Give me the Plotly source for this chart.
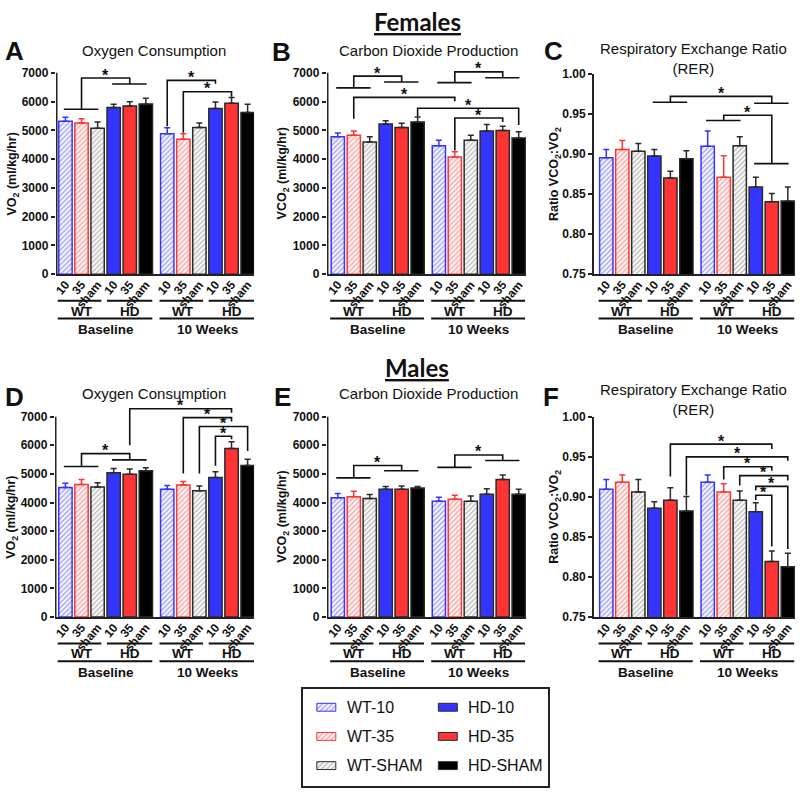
import plotly.graph_objects as go

W, H = 800, 795
FONT = "Liberation Sans, Arial, sans-serif"

# ---------------- data ----------------
SERIES = ["WT-10", "WT-35", "WT-SHAM", "HD-10", "HD-35", "HD-SHAM"]
DOSE_LABELS = ["10", "35", "sham"]
GENOTYPES = ["WT", "HD"]
TIMEPOINTS = ["Baseline", "10 Weeks"]

# [Baseline, 10 Weeks] per series (order = SERIES)
F_VO2_MEAN = [[5315, 4883], [5258, 4689], [5076, 5099], [5793, 5759], [5850, 5941], [5918, 5623]]
F_VO2_SEM = [[137, 205], [148, 194], [216, 159], [114, 228], [148, 205], [194, 284]]

F_VCO2_MEAN = [[4780, 4462], [4826, 4075], [4598, 4655], [5224, 4974], [5099, 4997], [5293, 4735]]
F_VCO2_SEM = [[125, 193], [148, 182], [182, 171], [114, 227], [148, 148], [170, 216]]

F_RER_MEAN = [[0.8954, 0.9096], [0.9055, 0.8709], [0.9035, 0.9104], [0.8974, 0.8587], [0.8701, 0.8404], [0.8941, 0.8412]]
F_RER_SEM = [[0.0101, 0.0191], [0.0114, 0.0269], [0.0094, 0.0110], [0.0081, 0.0122], [0.0082, 0.0102], [0.0098, 0.0175]]

M_VO2_MEAN = [[4529, 4461], [4632, 4609], [4541, 4415], [5044, 4872], [4987, 5890], [5113, 5296]]
M_VO2_SEM = [[149, 137], [172, 126], [149, 160], [149, 206], [183, 229], [103, 217]]

M_VCO2_MEAN = [[4163, 4049], [4198, 4118], [4140, 4049], [4461, 4289], [4461, 4804], [4507, 4289]]
M_VCO2_SEM = [[149, 137], [194, 137], [138, 183], [103, 195], [114, 160], [57, 172]]

M_RER_MEAN = [[0.9093, 0.9183], [0.9183, 0.9060], [0.9060, 0.8958], [0.8856, 0.8815], [0.8958, 0.8194], [0.8824, 0.8129]]
M_RER_SEM = [[0.0123, 0.0090], [0.0090, 0.0103], [0.0156, 0.0115], [0.0082, 0.0111], [0.0156, 0.0131], [0.0179, 0.0168]]

VO2_TICKS = [0, 1000, 2000, 3000, 4000, 5000, 6000, 7000]
RER_TICKS = [0.75, 0.80, 0.85, 0.90, 0.95, 1.00]

# significance brackets; slot = bar index 0..11 (0-5 Baseline, 6-11 10 Weeks)
# group lines: (first slot, last slot, y); links: (slot1, y1, slot2, y2, ytop)
A_HLINES = [(0, 2, 5736), (3, 5, 6613)]
A_LINKS = [(1, 5736, 4, 6613, 6818), (6, 5145, 9, 6624, 6738), (7, 4917, 10, 6169, 6340)]
B_HLINES = [(0, 2, 6476), (3, 5, 6681), (6, 8, 6659), (9, 11, 6829)]
B_LINKS = [(1, 6476, 4, 6681, 6886), (7, 6659, 10, 6829, 7034), (1, 5400, 7, 6010, 6146),
           (5, 5480, 11, 5190, 5771), (7, 4300, 10, 5293, 5429)]
C_HLINES = [(3, 5, 0.9646), (9, 11, 0.9633), (6, 8, 0.9418), (9, 11, 0.8880)]
C_LINKS = [(4, 0.9646, 10, 0.9633, 0.9719), (7, 0.9418, 10, 0.8880, 0.9483)]
D_HLINES = [(0, 2, 5261), (3, 5, 5490)]
D_LINKS = [(1, 5261, 4, 5490, 5707), (4, 6005, 10, 7137, 7275), (7, 5010, 10, 6828, 6966),
           (8, 5010, 11, 5799, 6657), (9, 5284, 10, 6211, 6314)]
E_HLINES = [(0, 2, 4861), (3, 5, 5113), (6, 8, 5227), (9, 11, 5467)]
E_LINKS = [(1, 4861, 4, 5113, 5296), (7, 5227, 10, 5467, 5662)]
F_HLINES = []
F_LINKS = [(4, 0.9252, 10, 0.9596, 0.9657), (5, 0.9020, 11, 0.9449, 0.9498),
           (7, 0.9216, 10, 0.9326, 0.9375), (8, 0.9142, 11, 0.9203, 0.9265),
           (9, 0.9080, 11, 0.8350, 0.9130), (9, 0.8958, 10, 0.8380, 0.9020)]

# ---------------- styles ----------------
BLUE, RED, EDGE = "#3434ff", "#ff3434", "#2a2a2a"
STYLES = [
    dict(fill=BLUE, line=BLUE, hatch=True, err=BLUE),
    dict(fill=RED, line=RED, hatch=True, err=RED),
    dict(fill="#707070", line=EDGE, hatch=True, err=EDGE),
    dict(fill=BLUE, line=EDGE, hatch=False, err=EDGE),
    dict(fill=RED, line=EDGE, hatch=False, err=EDGE),
    dict(fill="#000000", line=EDGE, hatch=False, err=EDGE),
]
GAP = 0.33
BAR_W = 0.83


def pos(slot):
    return slot + (GAP if slot >= 5.5 else 0)


def px_x(p):
    return p / W


def px_y(p):
    return 1 - p / H


def marker_for(st, lw=1.5):
    m = dict(color="white" if st["hatch"] else st["fill"], line=dict(color=st["line"], width=lw))
    if st["hatch"]:
        m["pattern"] = dict(shape="/", fgcolor=st["fill"], bgcolor="white", size=3.5, solidity=0.4)
    return m


PANELS = [
    dict(letter="A", title="Oxygen Consumption", ytitle="VO<sub>2</sub> (ml/kg/hr)",
         mean=F_VO2_MEAN, sem=F_VO2_SEM, ticks=VO2_TICKS, fmt="{:.0f}", ext=7400,
         x0=53, x1=252, ytop=67, ybot=272, xr=(-0.6, 11.73), hl=A_HLINES, lk=A_LINKS,
         lpos=(12, 45), tpos=(152, 44), ytx=10),
    dict(letter="B", title="Carbon Dioxide Production", ytitle="VCO<sub>2</sub> (ml/kg/hr)",
         mean=F_VCO2_MEAN, sem=F_VCO2_SEM, ticks=VO2_TICKS, fmt="{:.0f}", ext=7400,
         x0=325, x1=525, ytop=67, ybot=272, xr=(-0.69, 11.79), hl=B_HLINES, lk=B_LINKS,
         lpos=(280, 46), tpos=(427, 44), ytx=281),
    dict(letter="C", title="Respiratory Exchange Ratio<br>(RER)", ytitle="Ratio VCO<sub>2</sub>:VO<sub>2</sub>",
         mean=F_RER_MEAN, sem=F_RER_SEM, ticks=RER_TICKS, fmt="{:.2f}", ext=None,
         x0=593, x1=795, ytop=68, ybot=272, xr=(-0.78, 11.78), hl=C_HLINES, lk=C_LINKS,
         lpos=(553, 45), tpos=(693, 52), ytx=554),
    dict(letter="D", title="Oxygen Consumption", ytitle="VO<sub>2</sub> (ml/kg/hr)",
         mean=M_VO2_MEAN, sem=M_VO2_SEM, ticks=VO2_TICKS, fmt="{:.0f}", ext=7400,
         x0=52, x1=252, ytop=417, ybot=621, xr=(-0.66, 11.73), hl=D_HLINES, lk=D_LINKS,
         lpos=(12, 397), tpos=(152, 393), ytx=9),
    dict(letter="E", title="Carbon Dioxide Production", ytitle="VCO<sub>2</sub> (ml/kg/hr)",
         mean=M_VCO2_MEAN, sem=M_VCO2_SEM, ticks=VO2_TICKS, fmt="{:.0f}", ext=7400,
         x0=325, x1=525, ytop=417, ybot=621, xr=(-0.69, 11.79), hl=E_HLINES, lk=E_LINKS,
         lpos=(281, 397), tpos=(427, 393), ytx=281),
    dict(letter="F", title="Respiratory Exchange Ratio<br>(RER)", ytitle="Ratio VCO<sub>2</sub>:VO<sub>2</sub>",
         mean=M_RER_MEAN, sem=M_RER_SEM, ticks=RER_TICKS, fmt="{:.2f}", ext=None,
         x0=593, x1=795, ytop=417, ybot=621, xr=(-0.78, 11.78), hl=F_HLINES, lk=F_LINKS,
         lpos=(550, 397), tpos=(693, 400), ytx=554),
]

fig = go.Figure()
shapes, annos = [], []
layout = dict(width=W, height=H, margin=dict(l=0, r=0, t=0, b=0), paper_bgcolor="white",
              plot_bgcolor="white", barmode="overlay", showlegend=False,
              font=dict(family=FONT, color="#111"))

for i, p in enumerate(PANELS, start=1):
    xa, ya = f"x{i}", f"y{i}"
    lo, hi = p["ticks"][0], p["ticks"][-1]
    rng_hi = p["ext"] if p["ext"] else hi
    top_px = p["ybot"] - (rng_hi - lo) / (hi - lo) * (p["ybot"] - p["ytop"])
    for s, st in enumerate(STYLES):
        fig.add_trace(go.Bar(
            x=[pos(s), pos(6 + s)], y=p["mean"][s], width=BAR_W, name=SERIES[s],
            marker=marker_for(st), xaxis=xa, yaxis=ya,
            error_y=dict(type="data", array=p["sem"][s], arrayminus=[0, 0], symmetric=False,
                         color=st["err"], thickness=1.5, width=3),
        ))
    layout[f"xaxis{i}"] = dict(
        domain=[px_x(p["x0"]), px_x(p["x1"])], range=list(p["xr"]), anchor=ya,
        tickvals=[pos(s) for s in range(12)], ticktext=DOSE_LABELS * 4, tickangle=-50,
        tickfont=dict(family=FONT, size=12, weight="bold", color="#111"),
        ticklabelstandoff=-3,
        showline=True, linewidth=1.5, linecolor="#222", ticks="", ticklen=0,
        showgrid=False, zeroline=False)
    layout[f"yaxis{i}"] = dict(
        domain=[px_y(p["ybot"]), px_y(top_px)], range=[lo, rng_hi], anchor=xa,
        tickvals=p["ticks"], ticktext=[p["fmt"].format(t) for t in p["ticks"]],
        tickfont=dict(family=FONT, size=12, weight="bold", color="#111"),
        ticks="outside", ticklen=4, tickwidth=1.5, tickcolor="#222",
        showline=p["ext"] is None, linewidth=1.5, linecolor="#222", showgrid=False, zeroline=False)
    if p["ext"]:
        shapes.append(dict(type="line", xref=xa, yref=ya, x0=p["xr"][0] + 0.06, x1=p["xr"][0] + 0.06,
                           y0=lo, y1=hi, line=dict(color="#222", width=1.5)))
    # significance brackets
    for (a, b, y) in p["hl"]:
        shapes.append(dict(type="line", xref=xa, yref=ya, x0=pos(a) - 0.1, x1=pos(b) + 0.05,
                           y0=y, y1=y, line=dict(color="#111", width=1.6)))
    for (s1, y1, s2, y2, yt) in p["lk"]:
        xa1, xa2 = pos(s1), pos(s2)
        shapes.append(dict(type="path", xref=xa, yref=ya,
                           path=f"M{xa1},{y1} L{xa1},{yt} L{xa2},{yt} L{xa2},{y2}",
                           line=dict(color="#111", width=1.6)))
        annos.append(dict(xref=xa, yref=ya, x=(xa1 + xa2) / 2, y=yt, text="*", showarrow=False,
                          yanchor="middle", yshift=3,
                          font=dict(family=FONT, size=16, color="#111", weight="bold")))
    # group labels under the axis
    base = p["ybot"]
    for t in range(2):
        off = 6 * t
        for g in range(2):
            first, last = off + 3 * g, off + 3 * g + 2
            x_a = pos(first) - (0.48 if g == 0 else 0.42)
            x_b = pos(last) + (0.23 if g == 0 else 0.4)
            shapes.append(dict(type="line", xref=xa, yref="paper", x0=x_a, x1=x_b,
                               y0=px_y(base + 27), y1=px_y(base + 27), line=dict(color="#111", width=2)))
            annos.append(dict(xref=xa, yref="paper", x=pos(first + 1), y=px_y(base + 37.5),
                              text=GENOTYPES[g], showarrow=False, yanchor="middle",
                              font=dict(family=FONT, size=13.5, weight="bold", color="#111")))
        shapes.append(dict(type="line", xref=xa, yref="paper", x0=pos(off) - 0.48, x1=pos(off + 5) + 0.4,
                           y0=px_y(base + 45), y1=px_y(base + 45), line=dict(color="#111", width=2)))
        annos.append(dict(xref=xa, yref="paper", x=(pos(off) + pos(off + 5)) / 2, y=px_y(base + 56),
                          text=TIMEPOINTS[t], showarrow=False, yanchor="middle",
                          font=dict(family=FONT, size=13.5, weight="bold", color="#111")))
    # panel letter, title, y title
    annos.append(dict(xref="paper", yref="paper", x=px_x(p["lpos"][0]), y=px_y(p["lpos"][1]),
                      text=p["letter"], showarrow=False, xanchor="center", yanchor="middle",
                      font=dict(family=FONT, size=26, weight="bold", color="#111")))
    annos.append(dict(xref="paper", yref="paper", x=px_x(p["tpos"][0]), y=px_y(p["tpos"][1]),
                      text=p["title"], showarrow=False, xanchor="center", yanchor="middle",
                      font=dict(family=FONT, size=15, color="#111")))
    annos.append(dict(xref="paper", yref="paper", x=px_x(p["ytx"]), y=px_y((p["ytop"] + p["ybot"]) / 2),
                      text=p["ytitle"], showarrow=False, textangle=-90, xanchor="center", yanchor="middle",
                      font=dict(family=FONT, size=12.5, weight="bold", color="#111")))

# section headers
for txt, yy in [("Females", 15), ("Males", 367)]:
    annos.append(dict(xref="paper", yref="paper", x=px_x(416), y=px_y(yy), text=f"<u>{txt}</u>",
                      showarrow=False, xanchor="center", yanchor="middle",
                      font=dict(family="Lato, Open Sans, sans-serif", size=24, weight="bold", color="#111")))

# custom legend box (2 columns x 3 rows)
LX, LY = "x7", "y7"
for s, st in enumerate(STYLES):
    col, row = s // 3, s % 3
    fig.add_trace(go.Bar(x=[col], y=[0.27], base=[row - 0.135], width=0.156, name=SERIES[s],
                         marker=marker_for(st, lw=1), xaxis=LX, yaxis=LY, hoverinfo="skip"))
    annos.append(dict(xref=LX, yref=LY, x=col + 0.152, y=row, text=SERIES[s], showarrow=False,
                      xanchor="left", yanchor="middle", font=dict(family=FONT, size=16, color="#111")))
layout["xaxis7"] = dict(domain=[px_x(301), px_x(547)], range=[-0.193, 1.824], anchor=LY,
                        showline=True, mirror=True, linewidth=2, linecolor="#222",
                        showticklabels=False, ticks="", showgrid=False, zeroline=False)
layout["yaxis7"] = dict(domain=[px_y(793), px_y(694)], range=[2.7, -0.633], anchor=LX,
                        showline=True, mirror=True, linewidth=2, linecolor="#222",
                        showticklabels=False, ticks="", showgrid=False, zeroline=False)

layout["shapes"] = shapes
layout["annotations"] = annos
fig.update_layout(**layout)

PAGE_FIX = (
    "document.documentElement.style.margin='0';document.documentElement.style.padding='0';"
    "document.documentElement.style.overflow='hidden';"
    "document.body.style.margin='0';document.body.style.padding='0';document.body.style.overflow='hidden';"
    "document.body.style.height='795px';"
    "var g=document.getElementsByClassName('plotly-graph-div')[0];"
    "g.style.position='absolute';g.style.left='0px';g.style.top='0px';"
)
fig.write_html("out.html", config={"displayModeBar": False}, post_script=PAGE_FIX)
